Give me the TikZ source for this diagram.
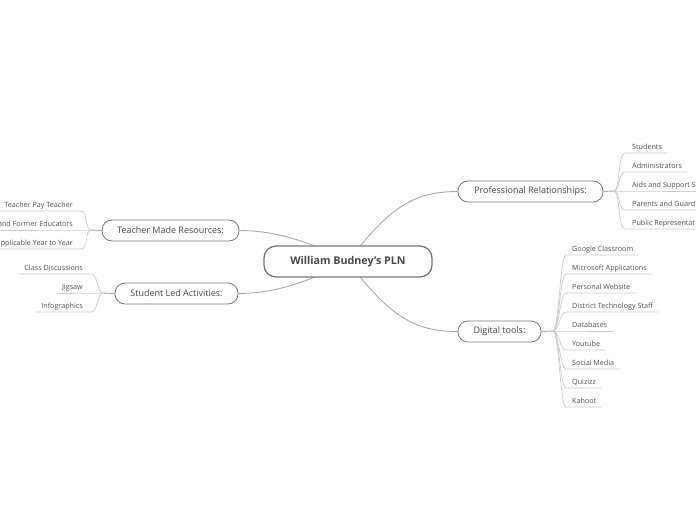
\documentclass[tikz,border=0pt]{standalone}
\usepackage{fontspec}
\setmainfont{Open Sans}
\usetikzlibrary{calc}
\definecolor{txt}{HTML}{4A4A4A}
\definecolor{leaftxt}{HTML}{555555}
\definecolor{boxline}{HTML}{7A7A7A}
\definecolor{mainln}{HTML}{ABABAB}
\definecolor{leafln}{HTML}{CDCDCD}
\tikzset{
  centralbox/.style={draw=boxline, line width=1.3pt, rounded corners=12pt, fill=white,
    minimum height=31pt, inner sep=0pt, text=txt, font=\fontsize{10.7}{12}\selectfont\bfseries},
  branchbox/.style={draw=boxline, line width=0.8pt, rounded corners=10pt, fill=white,
    minimum height=21pt, inner sep=0pt, text=txt, font=\fontsize{9}{10}\selectfont},
  leaftext/.style={inner sep=0pt, text=leaftxt, text height=5.4pt, text depth=1.6pt,
    font=\fontsize{7.2}{8}\selectfont},
  mainline/.style={draw=mainln, line width=0.9pt},
  leafline/.style={draw=leafln, line width=0.7pt},
}
\begin{document}
\begin{tikzpicture}[x=1pt, y=-1pt]
\useasboundingbox (0,0) rectangle (696,520);
\clip (0,0) rectangle (696,520);
\fill[white] (0,0) rectangle (696,520);

% main nodes
\node[branchbox, minimum width=137pt] (tmr) at (170.5,230.5) {Teacher Made Resources:};
\node[branchbox, minimum width=123pt] (sla) at (176.5,293.5) {Student Led Activities:};
\node[branchbox, minimum width=145pt] (pr) at (530.5,191.5) {Professional Relationships:};
\node[branchbox, minimum width=83pt] (dt) at (499.5,331.5) {Digital tools:};

\coordinate (cc) at (348,261.5);
\draw[mainline] (cc) .. controls (390,206) and (415,191.5) .. (pr.west);
\draw[mainline] (cc) .. controls (390,317) and (415,331.5) .. (dt.west);
\draw[mainline] (cc) .. controls (300,236) and (265,230.5) .. (tmr.east);
\draw[mainline] (cc) .. controls (300,287) and (265,293.5) .. (sla.east);

\node[centralbox, minimum width=168pt] (c) at (cc) {William Budney’s PLN};

% branch points
\coordinate (pb) at (614,191);
\coordinate (db) at (553,331);
\coordinate (tb) at (91,230);
\coordinate (sb) at (103,293);
\draw[mainline] (pr.east) -- (pb);
\draw[mainline] (dt.east) -- (db);
\draw[mainline] (tmr.west) -- (tb);
\draw[mainline] (sla.west) -- (sb);

% Professional Relationships leaves
\node[leaftext, anchor=west] (p1) at (632,147.5) {Students};
\node[leaftext, anchor=west] (p2) at (632,166.5) {Administrators};
\node[leaftext, anchor=west] (p3) at (632,185.5) {Aids and Support S};
\node[leaftext, anchor=west] (p4) at (632,204.5) {Parents and Guard};
\node[leaftext, anchor=west] (p5) at (632,223.5) {Public Representat};
\foreach \n in {p1,p2,p3,p4,p5}{
  \draw[leafline] (pb) .. controls +(6,0) and +(-7,0) .. ($(\n.west)+(-7,5.5)$) -- ($(\n.east)+(5,5.5)$);
}

% Digital tools leaves
\node[leaftext, anchor=west] (d1) at (572,249.5) {Google Classroom};
\node[leaftext, anchor=west] (d2) at (572,268.5) {Microsoft Applications};
\node[leaftext, anchor=west] (d3) at (572,287.5) {Personal Website};
\node[leaftext, anchor=west] (d4) at (572,306.5) {District Technology Staff};
\node[leaftext, anchor=west] (d5) at (572,325.5) {Databases};
\node[leaftext, anchor=west] (d6) at (572,344.5) {Youtube};
\node[leaftext, anchor=west] (d7) at (572,363.5) {Social Media};
\node[leaftext, anchor=west] (d8) at (572,382.5) {Quizizz};
\node[leaftext, anchor=west] (d9) at (572,401.5) {Kahoot};
\foreach \n in {d1,d2,d3,d4,d5,d6,d7,d8,d9}{
  \draw[leafline] (db) .. controls +(6,0) and +(-6,0) .. ($(\n.west)+(-6,5.5)$) -- ($(\n.east)+(5,5.5)$);
}

% Teacher Made Resources leaves
\node[leaftext, anchor=east] (t1) at (73,205.5) {Teacher Pay Teacher};
\node[leaftext, anchor=east] (t2) at (73,224.5) {and Former Educators};
\node[leaftext, anchor=east] (t3) at (73,243.5) {pplicable Year to Year};
\foreach \n in {t1,t2,t3}{
  \draw[leafline] (tb) .. controls +(-6,0) and +(7,0) .. ($(\n.east)+(8,5.5)$) -- ($(\n.west)+(-5,5.5)$);
}

% Student Led Activities leaves
\node[leaftext, anchor=east] (s1) at (83,268.5) {Class Discussions};
\node[leaftext, anchor=east] (s2) at (83,287.5) {Jigsaw};
\node[leaftext, anchor=east] (s3) at (83,306.5) {Infographics};
\foreach \n in {s1,s2,s3}{
  \draw[leafline] (sb) .. controls +(-6,0) and +(7,0) .. ($(\n.east)+(8,5.5)$) -- ($(\n.west)+(-5,5.5)$);
}
\end{tikzpicture}
\end{document}
